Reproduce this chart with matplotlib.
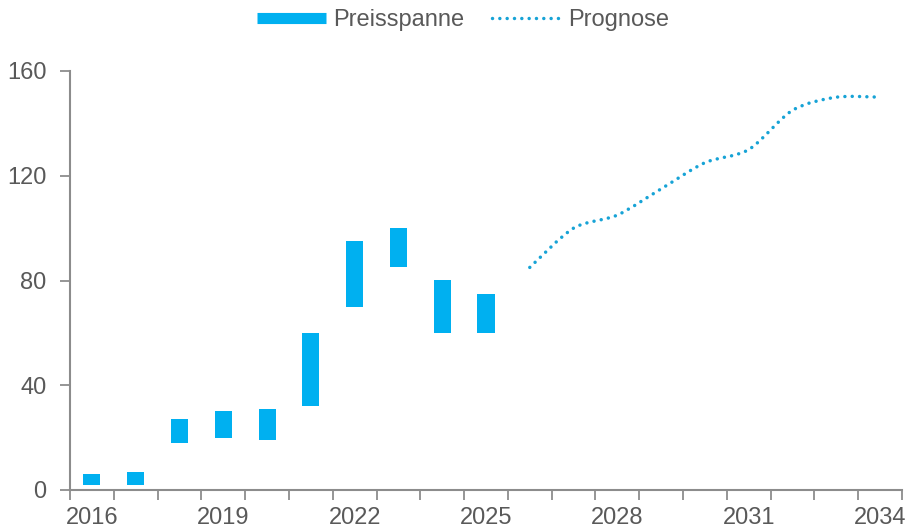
import numpy as np
import matplotlib.pyplot as plt
from matplotlib.path import Path
from matplotlib.patches import PathPatch
from matplotlib.lines import Line2D

plt.rcParams['font.family'] = ['Liberation Sans', 'DejaVu Sans']

# Price range per year (low / high)
years = [2016, 2017, 2018, 2019, 2020, 2021, 2022, 2023, 2024, 2025]
low = [2, 2, 18, 20, 19, 32, 70, 85, 60, 60]
high = [6, 7, 27, 30, 31, 60, 95, 100, 80, 75]

# Forecast
fc_years = [2026, 2027, 2028, 2029, 2030, 2031, 2032, 2033, 2034]
fc_values = [85, 100, 105, 115, 125, 130, 145, 150, 150]

label_years = [2016, 2019, 2022, 2025, 2028, 2031, 2034]
y_ticks = [0, 40, 80, 120, 160]

bar_color = '#00B0F0'
line_color = '#17A3D6'
text_color = '#595959'
axis_color = '#8C8C8C'

fig = plt.figure(figsize=(9.08, 5.31), dpi=100)
ax = fig.add_axes([70 / 908, 1 - 490 / 531, 832 / 908, 419 / 531])

bottoms = np.array(low)
heights = np.array(high) - bottoms
ax.bar(years, heights, bottom=bottoms, width=0.39, color=bar_color, zorder=2)

# smoothed forecast line (cubic bezier segments, Catmull-Rom style)
pts = np.column_stack([fc_years, fc_values]).astype(float)
verts = [pts[0]]
codes = [Path.MOVETO]
n = len(pts)
for i in range(n - 1):
    p0 = pts[i - 1] if i > 0 else pts[i]
    p1 = pts[i]
    p2 = pts[i + 1]
    p3 = pts[i + 2] if i + 2 < n else pts[i + 1]
    c1 = p1 + (p2 - p0) / 7
    c2 = p2 - (p3 - p1) / 7
    verts += [c1, c2, p2]
    codes += [Path.CURVE4] * 3
curve = PathPatch(Path(verts, codes), fill=False, edgecolor=line_color,
                  lw=2.5, linestyle=(0, (0.01, 2.1)), capstyle='round', zorder=3)
ax.add_patch(curve)

ax.set_xlim(2015.5, 2034.5)
ax.set_ylim(0, 160)

# category boundaries as ticks, labels every third year
ax.set_xticks(np.arange(2015.5, 2035, 1))
ax.set_xticklabels([])
ax.set_xticks(label_years, minor=True)
ax.set_xticklabels([str(y) for y in label_years], minor=True)
ax.tick_params(axis='x', which='major', length=7, width=1.3, color=axis_color, direction='out')
ax.tick_params(axis='x', which='minor', length=0, pad=12, labelsize=17, labelcolor=text_color)

ax.set_yticks(y_ticks)
ax.tick_params(axis='y', length=7, width=1.3, color=axis_color, direction='out',
               pad=10, labelsize=17, labelcolor=text_color)

for side in ['top', 'right']:
    ax.spines[side].set_visible(False)
for side in ['left', 'bottom']:
    ax.spines[side].set_color(axis_color)
    ax.spines[side].set_linewidth(1.5)

handles = [
    Line2D([], [], color=bar_color, lw=8, solid_capstyle='butt'),
    Line2D([], [], color=line_color, lw=2.5, linestyle=(0, (0.01, 2.1)),
           dash_capstyle='round'),
]
fig.legend(handles, ['Preisspanne', 'Prognose'], loc='center', ncol=2,
           bbox_to_anchor=(463 / 908, 1 - 20 / 531), frameon=False,
           fontsize=17, labelcolor=text_color, handlelength=2.9,
           handletextpad=0.3, columnspacing=1.2)

fig.savefig('out.png', dpi=100)
